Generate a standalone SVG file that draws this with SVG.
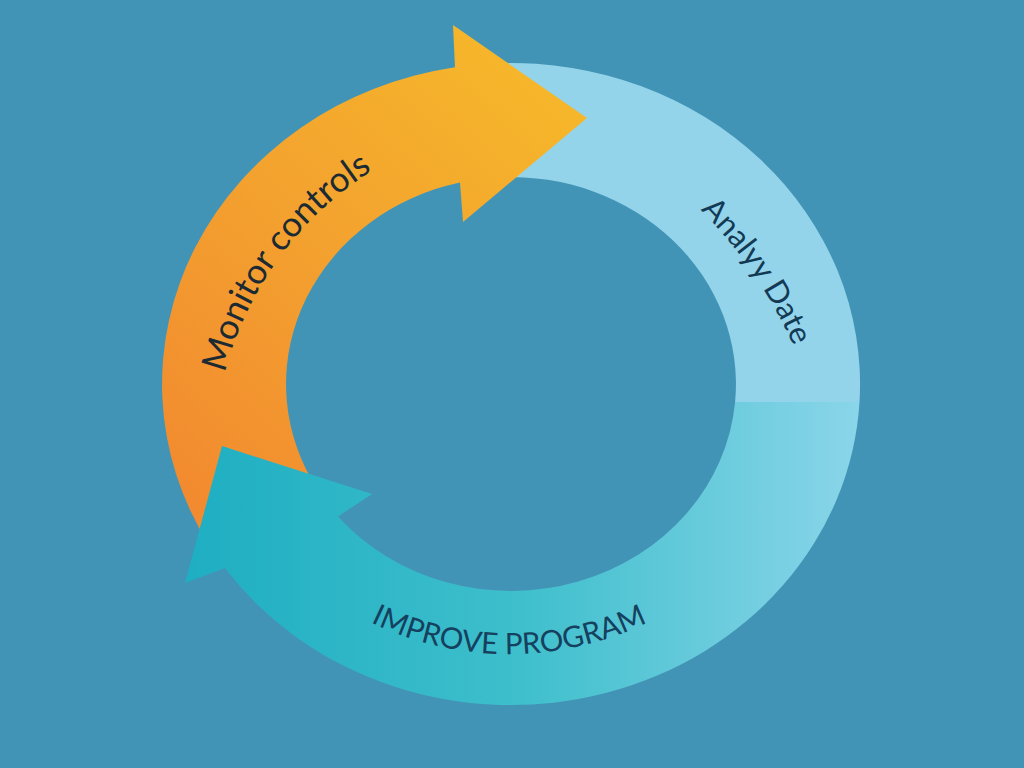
<svg xmlns="http://www.w3.org/2000/svg" width="1024" height="768" viewBox="0 0 1024 768">
<style>
.lbl{font-family:Lato,"Open Sans","Liberation Sans",sans-serif;}
</style>
<defs>
<linearGradient id="gOrange" gradientUnits="userSpaceOnUse" x1="200" y1="520" x2="580" y2="100">
<stop offset="0" stop-color="#f28a2f"/>
<stop offset="0.5" stop-color="#f3a12f"/>
<stop offset="1" stop-color="#f6b72a"/>
</linearGradient>
<linearGradient id="gTeal" gradientUnits="userSpaceOnUse" x1="185" y1="0" x2="860" y2="0">
<stop offset="0" stop-color="#1eaec2"/>
<stop offset="0.5" stop-color="#3fbfcc"/>
<stop offset="1" stop-color="#8ad5e9"/>
</linearGradient>
<path id="pMon" d="M 217.3 505.3 A 340 340 0 0 1 506.7 121.3"/>
<path id="pAna" d="M 633.6 154.9 A 450 450 0 0 1 823.7 442.1"/>
<path id="pImp" d="M 284.1 560.9 A 318 318 0 0 0 733.9 560.9"/>
</defs>
<rect width="1024" height="768" fill="#4294b6"/>
<g id="analyze">
<path d="M 500 63.2 A 349 321 0 0 1 859.5 402 L 735.1 402 A 225 207 0 0 0 500 177.3 Z" fill="#93d4ea"/>
<text class="lbl" font-size="31" fill="#133a55"><textPath href="#pAna" startOffset="48%" text-anchor="middle">Analyy Date</textPath></text>
</g>
<g id="monitor">
<path d="M 209.1 545 A 349 321 0 0 1 455 67.2 L 453 25 L 587 118 L 463 222 L 460 182.4 A 225 207 0 0 0 311.7 480 Z" fill="url(#gOrange)"/>
<text class="lbl" font-size="35" fill="#1c2b33"><textPath href="#pMon" startOffset="49%" text-anchor="middle">Monitor controls</textPath></text>
</g>
<g id="improve">
<path d="M 859.5 402 A 349 321 0 0 1 225 568 L 185 583 L 222 446 L 372 494 L 338 516.4 A 225 207 0 0 0 735.1 402 Z" fill="url(#gTeal)"/>
<text class="lbl" font-size="29.5" fill="#15405e"><textPath href="#pImp" startOffset="50%" text-anchor="middle">IMPROVE PROGRAM</textPath></text>
</g>
<g id="connectors"></g>
</svg>
